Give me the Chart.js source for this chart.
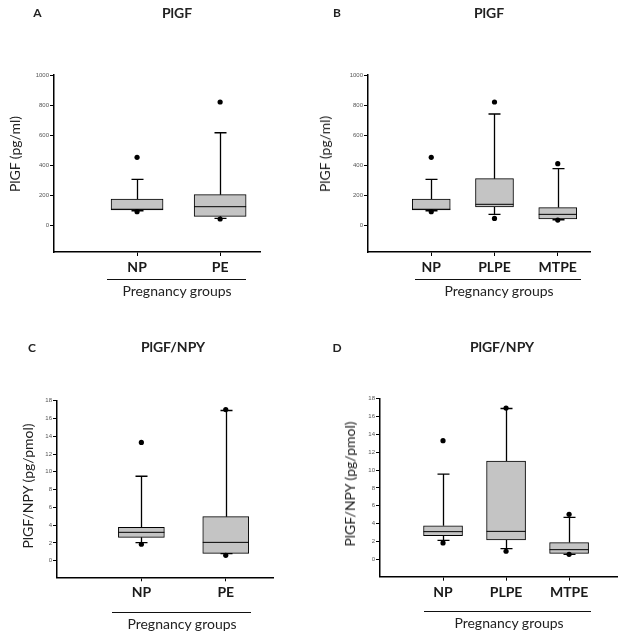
<!DOCTYPE html>
<html><head><meta charset="utf-8">
<script src="https://cdn.jsdelivr.net/npm/chart.js@4.4.0/dist/chart.umd.min.js"></script>
<style>
body{margin:0;width:624px;height:638px;position:relative;background:#fff;font-family:Lato,sans-serif;overflow:hidden}
canvas{position:absolute}
.t{position:absolute;white-space:nowrap;color:#222;line-height:1;transform:translate(-50%,-50%)}
.b{font-weight:bold}
.yt{transform:translate(-50%,-50%) rotate(-90deg)}
.gl{position:absolute;height:0;border-top:1px solid #111}
</style></head><body>
<script>
// ---- categories / tick labels ----
const groupsTwo = ['NP','PE'];
const groupsThree = ['NP','PLPE','MTPE'];
const plgfTicks = [0,200,400,600,800,1000];
const ratioTicks = [0,2,4,6,8,10,12,14,16,18];

// ---- Panel A : PlGF, NP vs PE ----
const aQ1 = [100, 58];
const aMed = [105, 122];
const aQ3 = [173, 202];
const aLow = [95, 44];
const aHigh = [304, 615];
const aOutHigh = [451, 820];
const aOutLow = [89, 40];

// ---- Panel B : PlGF, NP / PLPE / MTPE ----
const bQ1 = [100, 120, 40];
const bMed = [105, 138, 71];
const bQ3 = [173, 309, 116];
const bLow = [95, 71, 35];
const bHigh = [304, 740, 376];
const bOutHigh = [451, 820, 409];
const bOutLow = [89, 44, 33];

// ---- Panel C : PlGF/NPY, NP vs PE ----
const cQ1 = [2.63, 0.83];
const cMed = [3.19, 2.06];
const cQ3 = [3.75, 4.95];
const cLow = [2.03, 0.8];
const cHigh = [9.5, 16.9];
const cOutHigh = [13.3, 17.0];
const cOutLow = [1.85, 0.6];

// ---- Panel D : PlGF/NPY, NP / PLPE / MTPE ----
const dQ1 = [2.64, 2.16, 0.67];
const dMed = [3.1, 3.13, 1.08];
const dQ3 = [3.75, 11.0, 1.87];
const dLow = [2.13, 1.19, 0.56];
const dHigh = [9.55, 16.9, 4.7];
const dOutHigh = [13.3, 16.95, 5.04];
const dOutLow = [1.83, 0.9, 0.56];

// ---- layout (styles / geometry) ----
const PW = 312, PH = 319, YW = 30;
const layoutA = {ox:0,   oy:0,   axisX:54, top:75,   bottom:252,   right:260, yMin:-180,  yMax:1000, xMax:2.48, barW:52};
const layoutB = {ox:312, oy:0,   axisX:56, top:75,   bottom:252,   right:278, yMin:-180,  yMax:1000, xMax:3.51, barW:38};
const layoutC = {ox:0,   oy:319, axisX:57, top:81.7, bottom:258.3, right:273, yMin:-1.87, yMax:18,   xMax:2.56, barW:46};
const layoutD = {ox:312, oy:319, axisX:68, top:79.7, bottom:257.7, right:305, yMin:-1.95, yMax:18,   xMax:3.76, barW:39};

const boxPlugin = {
  id: 'boxWhisk',
  beforeDatasetsDraw(chart, args, o) {
    const xs = chart.scales.x, ys = chart.scales.y, ctx = chart.ctx;
    ctx.save();
    ctx.strokeStyle = '#000'; ctx.lineWidth = 1.3;
    o.med.forEach((m, i) => {
      const x = Math.round(xs.getPixelForValue(i + 1)) + 0.5;
      const yq3 = ys.getPixelForValue(o.q3[i]), yq1 = ys.getPixelForValue(o.q1[i]);
      const yh = ys.getPixelForValue(o.high[i]), yl = ys.getPixelForValue(o.low[i]);
      ctx.beginPath();
      ctx.moveTo(x, yq3); ctx.lineTo(x, yh);
      ctx.moveTo(x - 6, yh); ctx.lineTo(x + 6, yh);
      if (o.low[i] < o.q1[i]) { ctx.moveTo(x, yq1); ctx.lineTo(x, yl); }
      ctx.moveTo(x - 6, yl); ctx.lineTo(x + 6, yl);
      ctx.stroke();
    });
    ctx.restore();
  },
  afterDatasetsDraw(chart, args, o) {
    const xs = chart.scales.x, ys = chart.scales.y, ctx = chart.ctx;
    ctx.save();
    ctx.strokeStyle = '#000'; ctx.lineWidth = 1;
    o.med.forEach((m, i) => {
      const x = xs.getPixelForValue(i + 1);
      const y = ys.getPixelForValue(m);
      ctx.beginPath();
      ctx.moveTo(x - o.barW / 2, y); ctx.lineTo(x + o.barW / 2, y);
      ctx.stroke();
    });
    ctx.restore();
  }
};

function makePanel(L, d) {
  const cv = document.createElement('canvas');
  cv.width = PW; cv.height = PH;
  cv.style.left = L.ox + 'px'; cv.style.top = L.oy + 'px';
  cv.style.width = PW + 'px'; cv.style.height = PH + 'px';
  document.body.appendChild(cv);
  const idx = d.cats.map((c, i) => i + 1);
  const outliers = [];
  idx.forEach((x, i) => { outliers.push({x, y: d.outHigh[i]}); outliers.push({x, y: d.outLow[i]}); });
  new Chart(cv, {
    type: 'bar',
    data: {
      datasets: [
        {type: 'scatter', data: outliers, pointRadius: 2.6, pointHoverRadius: 2.6, backgroundColor: '#000', borderWidth: 0, order: 0},
        {type: 'bar', data: idx.map((x, i) => ({x, y: [d.q1[i], d.q3[i]]})), backgroundColor: '#c4c4c4',
         borderColor: '#000', borderWidth: 1, borderSkipped: false, barThickness: L.barW, order: 1}
      ]
    },
    options: {
      responsive: false, animation: false, devicePixelRatio: 1,
      layout: {padding: {left: L.axisX - YW, top: L.top, right: PW - L.right, bottom: 0}},
      plugins: {
        legend: {display: false}, tooltip: {enabled: false},
        boxWhisk: {med: d.med, q1: d.q1, q3: d.q3, low: d.low, high: d.high, barW: L.barW}
      },
      scales: {
        x: {
          type: 'linear', min: 0, max: L.xMax, offset: false,
          grid: {display: true, offset: false, drawOnChartArea: false, drawTicks: true, tickLength: 4, color: '#000', lineWidth: 1},
          border: {display: true, color: '#000', width: 1.5},
          afterBuildTicks: s => { s.ticks = idx.map(v => ({value: v})); },
          ticks: {callback: v => d.cats[v - 1], font: {family: 'Lato', size: 14, weight: 'bold'}, color: '#1a1a1a', padding: 3, autoSkip: false, maxRotation: 0},
          afterFit: s => { s.height = PH - L.bottom; }
        },
        y: {
          min: L.yMin, max: L.yMax,
          grid: {display: true, offset: false, drawOnChartArea: false, drawTicks: true, tickLength: 4, color: '#000', lineWidth: 1},
          border: {display: true, color: '#000', width: 1.5},
          afterBuildTicks: s => { s.ticks = d.ticks.map(v => ({value: v})); },
          ticks: {callback: v => String(v), font: {family: 'Liberation Sans', size: 6}, color: '#555', padding: 1},
          afterFit: s => { s.width = YW; }
        }
      }
    },
    plugins: [boxPlugin]
  });
}

makePanel(layoutA, {cats: groupsTwo, ticks: plgfTicks, q1: aQ1, med: aMed, q3: aQ3, low: aLow, high: aHigh, outHigh: aOutHigh, outLow: aOutLow});
makePanel(layoutB, {cats: groupsThree, ticks: plgfTicks, q1: bQ1, med: bMed, q3: bQ3, low: bLow, high: bHigh, outHigh: bOutHigh, outLow: bOutLow});
makePanel(layoutC, {cats: groupsTwo, ticks: ratioTicks, q1: cQ1, med: cMed, q3: cQ3, low: cLow, high: cHigh, outHigh: cOutHigh, outLow: cOutLow});
makePanel(layoutD, {cats: groupsThree, ticks: ratioTicks, q1: dQ1, med: dMed, q3: dQ3, low: dLow, high: dHigh, outHigh: dOutHigh, outLow: dOutLow});

// ---- text overlays ----
function txt(s, x, y, cls, size) {
  const e = document.createElement('div');
  e.className = 't ' + cls; e.textContent = s;
  e.style.left = x + 'px'; e.style.top = y + 'px'; e.style.fontSize = size + 'px';
  document.body.appendChild(e);
}
function gline(x1, x2, y) {
  const e = document.createElement('div');
  e.className = 'gl'; e.style.left = x1 + 'px'; e.style.width = (x2 - x1) + 'px'; e.style.top = y + 'px';
  document.body.appendChild(e);
}
const panelLetters = ['A','B','C','D'];
const panelTitles = ['PlGF','PlGF','PlGF/NPY','PlGF/NPY'];
const yTitles = ['PlGF (pg/ml)','PlGF (pg/ml)','PlGF/NPY (pg/pmol)','PlGF/NPY (pg/pmol)'];
const xGroupTitle = 'Pregnancy groups';

const letterPos = [[37.5,13],[337,13],[32,347.5],[337,347.5]];
const titlePos = [[177,13],[489,13],[173,347],[502,347]];
const yTitlePos = [[15,154],[325,154],[28,486],[350,484]];
const gLinePos = [[107,246,279],[415,581,279],[112,251,612],[424,591,611]];
const gTextPos = [[177,291],[499,291],[182,624],[509,623]];

for (let i = 0; i < 4; i++) {
  txt(panelLetters[i], letterPos[i][0], letterPos[i][1], 'b', 12);
  txt(panelTitles[i], titlePos[i][0], titlePos[i][1], 'b', 14);
  txt(yTitles[i], yTitlePos[i][0], yTitlePos[i][1], 'yt', 14);
  gline(gLinePos[i][0], gLinePos[i][1], gLinePos[i][2]);
  txt(xGroupTitle, gTextPos[i][0], gTextPos[i][1], '', 14);
}
</script>
</body></html>
